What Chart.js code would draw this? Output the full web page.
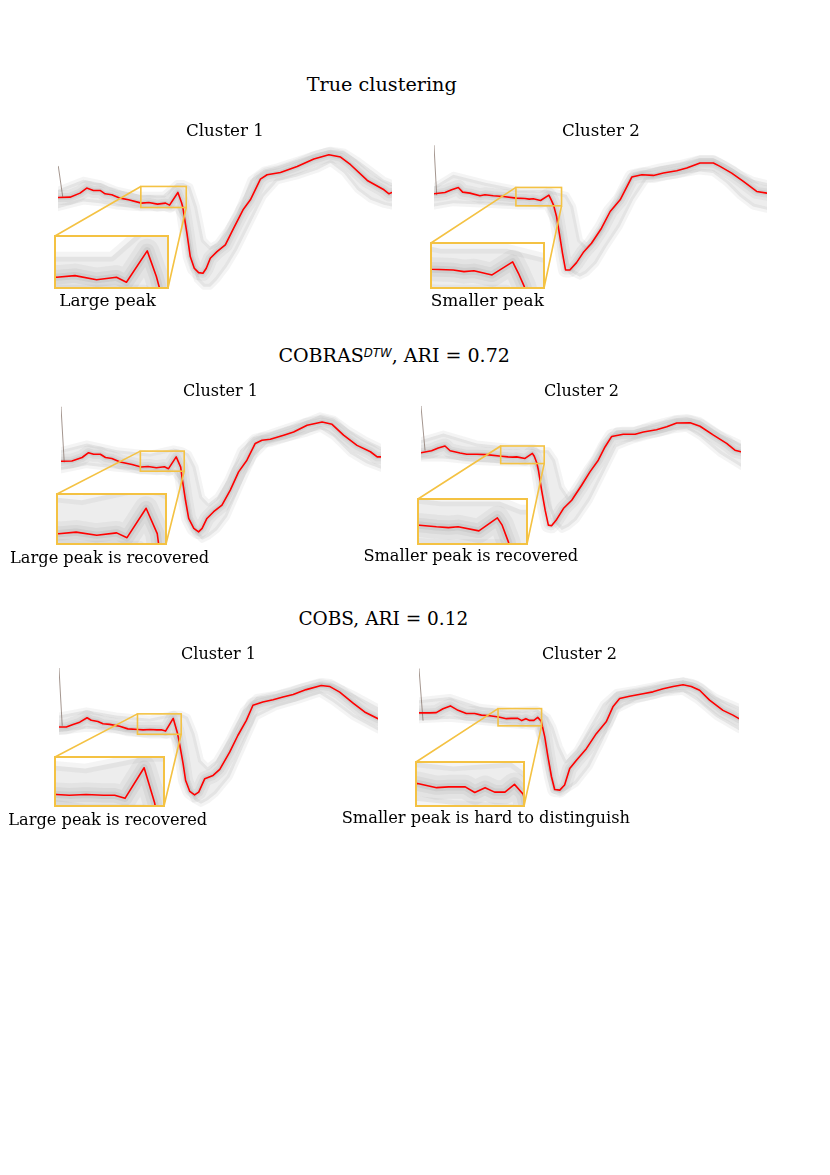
<!DOCTYPE html>
<html>
<head>
<meta charset="utf-8">
<script src="https://cdn.jsdelivr.net/npm/chart.js@4.4.0/dist/chart.umd.min.js"></script>
<style>
html,body{margin:0;padding:0;background:#fff;}
#page{position:relative;width:830px;height:1175px;overflow:hidden;background:#fff;}
#page canvas{position:absolute;}
.t{position:absolute;font-family:'DejaVu Serif',serif;color:#000;white-space:nowrap;line-height:1;}
.sup{font-family:'DejaVu Sans',sans-serif;font-style:italic;font-size:0.62em;position:relative;top:-0.42em;}
</style>
</head>
<body>
<div id="page"></div>
<script>
// ---------------- DATA (time 0..100, amplitude in arbitrary units) ----------------
// True clustering - Cluster 1
const P1_T    = [0.1,3.6,6.6,8.6,10.6,12.6,14.1,16.1,18.6,21.1,25.0,27.2,29.8,32.2,33.4,35.9,37.0,37.4,38.6,39.6,40.8,42.1,43.4,44.4,45.6,47.6,50.1,52.6,55.4,57.6,60.6,62.6,66.6,71.6,76.6,81.1,84.6,87.6,92.6,97.6,99.1,100];
const P1_MEAN = [0.7,0.8,2.0,3.5,2.8,2.8,1.8,1.5,0.5,0.0,-1.0,-0.8,-1.3,-1.0,-1.6,2.2,-0.9,-2.4,-10.0,-17.0,-20.5,-21.8,-22.0,-20.5,-17.5,-15.5,-13.5,-8.5,-3.0,0.0,6.2,7.5,8.2,10.0,12.2,13.5,12.8,10.5,5.8,3.0,1.8,2.2];
const P1_BAND_T  = [0,7.6,12.6,17.6,24.6,31.6,35.6,37.6,39.6,41.6,43.6,45.6,47.6,50.6,53.6,57.6,61.6,65.6,71.6,77.6,81.6,85.6,89.6,93.6,97.6,100];
const P1_BAND_HI = [3,6,5,3,1.5,1.5,5,5,4,-2,-12,-14,-13,-9,-4,6,9,10,12,14,15,14.5,12,9,6,5];
const P1_BAND_LO = [-2.5,-0.5,-1,-2,-2.5,-2.5,-2.5,-6,-17,-24,-26,-26,-24,-20,-15,-7,1,5.5,7,9,11,8,3,0,-1.5,-2];
const P1_SPIKE_T = [0.1,1.4], P1_SPIKE_Y = [10.0,1.0];
const P1_ZOOM = [24.8,38.4,-2.3,4.0];

// True clustering - Cluster 2
const P2_T    = [0,3.3,5.3,7.3,8.6,10.8,13.8,15.3,17.8,20.8,24.7,27.3,28.6,29.8,32.0,34.5,35.2,35.9,36.8,37.8,38.6,39.5,40.8,42.8,44.8,47.3,50.3,52.9,55.9,59.4,62.4,65.9,68.9,72.9,75.9,79.9,83.9,85.9,89.4,92.9,96.9,100];
const P2_MEAN = [1.8,2.2,3.0,3.7,2.3,2.0,1.2,1.5,1.2,1.0,0.5,0.4,0.2,0.3,-0.2,1.4,0.0,-1.6,-5.0,-11.0,-16.0,-21.0,-21.0,-18.8,-15.8,-13.0,-8.5,-3.5,0.0,6.8,7.5,7.3,8.0,8.7,9.5,11.0,11.0,10.0,8.0,5.5,2.5,2.0];
const P2_BAND_T  = [0,5.8,15.8,25.8,33.8,37.8,39.8,41.8,43.8,45.8,48.8,51.8,55.8,59.8,63.8,67.8,73.8,79.8,83.8,87.8,91.8,95.8,100];
const P2_BAND_HI = [4,7.5,5,3,3,2,1.5,-2,-12,-14,-11,-6,2,8,9,10,11,12.5,12.5,10.5,8,6,5];
const P2_BAND_LO = [-2,-1,-1.5,-2,-2,-10,-20,-22,-23,-22,-19,-14,-8,0,6,6.5,7.5,8.5,8,5,1,-2,-3];
const P2_SPIKE_T = [0,0.8], P2_SPIKE_Y = [16.2,1.5];
const P2_ZOOM = [24.6,38.3,-1.8,3.7];

// COBRAS^DTW - Cluster 1
const P3_T    = [0,3.4,6.6,8.6,10.2,12.3,13.9,15.9,18.5,22.2,25.0,27.2,29.8,32.3,33.6,36.0,37.4,37.9,38.9,39.9,41.5,43.0,44.1,45.6,47.7,50.3,52.9,55.5,58.1,60.7,62.8,65.4,69.6,72.7,76.9,81.6,84.7,88.3,92.5,96.7,98.8,100];
const P3_MEAN = [1.1,1.2,2.3,3.8,3.3,3.3,2.3,2.0,0.9,0.1,-0.7,-0.5,-0.9,-0.6,-1.2,2.5,-0.7,-4.5,-11.1,-16.8,-19.9,-21.0,-19.9,-16.8,-14.7,-12.6,-7.9,-2.2,1.45,6.7,7.7,8.0,9.3,10.3,12.4,13.4,12.7,9.3,6.1,4.1,2.5,2.5];
const P3_BAND_T  = [0,8.1,17.5,27.9,35.2,37.8,39.9,42.0,44.1,46.1,48.8,51.9,56.0,60.2,64.4,70.6,76.9,81.0,85.2,90.4,95.6,100];
const P3_BAND_HI = [4.6,6.7,4.6,3.5,5.1,4.6,3.5,-0.6,-10.0,-12.1,-10.0,-4.8,4.6,8.7,9.8,11.9,13.9,15.5,14.5,10.8,7.7,5.6];
const P3_BAND_LO = [-1.7,-0.1,-1.2,-2.2,-2.2,-5.8,-16.3,-21.5,-23.5,-22.5,-20.4,-16.3,-6.9,2.5,6.7,8.2,9.8,11.3,8.7,3.5,0.4,-1.2];
const P3_SPIKE_T = [0,1.0], P3_SPIKE_Y = [18.1,0.9];
const P3_ZOOM = [24.8,38.5,-2.0,4.3];

// COBRAS^DTW - Cluster 2
const P4_T    = [0,3.3,5.4,7.5,9.1,12.2,14.3,17.4,20.5,25.1,27.2,28.7,29.9,32.5,34.8,35.4,36.2,36.7,37.7,38.8,39.8,40.8,42.4,44.5,47.1,50.2,52.8,55.4,57.5,59.6,63.2,66.9,69.5,73.6,76.8,79.9,84.1,87.2,91.4,95.5,98.1,100];
const P4_MEAN = [3.8,4.4,5.3,5.9,4.4,3.7,3.3,3.3,3.2,2.7,2.5,2.4,2.5,2.0,3.6,2.7,0.6,-1.7,-8.0,-14.2,-18.9,-19.1,-17.1,-13.7,-11.1,-6.4,-2.2,1.45,5.6,8.9,9.6,9.6,10.3,11.0,11.9,13.1,13.2,12.1,9.3,6.7,4.6,4.1];
const P4_BAND_T  = [0,7.0,17.4,27.8,35.1,37.7,39.8,41.9,44.0,46.1,48.6,52.8,57.0,61.1,66.4,72.6,78.9,83.0,87.2,93.4,100];
const P4_BAND_HI = [7.7,9.8,6.7,5.6,5.6,4.6,4.6,1.5,-6.9,-10.0,-7.9,-0.6,6.7,10.8,10.8,12.9,14.5,15.0,14.0,9.8,6.7];
const P4_BAND_LO = [2.0,2.0,0.9,0.4,0.4,-3.8,-13.1,-18.3,-20.4,-19.4,-17.3,-11.1,-2.7,5.6,7.7,9.3,10.8,11.3,8.7,3.5,-0.6];
const P4_SPIKE_T = [0,1.25], P4_SPIKE_Y = [18.3,4.6];
const P4_ZOOM = [24.9,38.5,0.4,5.9];

// COBS - Cluster 1
const P5_T    = [0,2.3,4.4,6.5,8.8,10.1,12.2,13.8,15.9,19.0,21.6,24.8,26.4,28.5,30.7,32.1,33.4,35.8,37.1,37.8,38.9,39.7,41.0,42.5,43.8,45.7,48.3,50.4,53.5,56.1,58.7,60.8,63.9,67.1,70.2,73.4,77.5,82.2,84.8,88.0,92.2,95.8,100];
const P5_MEAN = [0.9,0.9,1.7,2.4,3.8,3.0,2.6,1.9,1.7,1.1,0.3,0.1,0.0,0.1,0.0,0.0,-0.4,3.6,-0.9,-4.4,-10.6,-15.9,-19.3,-20.4,-19.5,-15.3,-14.3,-12.4,-7.0,-1.7,2.9,7.7,8.7,9.4,10.3,11.1,12.6,13.9,13.6,11.8,8.4,5.6,3.5];
const P5_BAND_T  = [0,8.6,17.9,28.4,35.7,38.3,40.4,42.5,44.5,46.6,49.2,53.5,57.7,61.9,68.1,75.4,81.7,85.9,92.2,100];
const P5_BAND_HI = [4.5,6.1,4.5,3.5,5.0,5.0,4.0,-1.2,-9.6,-11.7,-9.6,-2.3,6.1,10.3,11.3,13.4,15.0,14.4,11.3,7.1];
const P5_BAND_LO = [-0.7,0.3,-0.2,-1.8,-1.8,-7.5,-17.9,-22.1,-23.2,-22.1,-20.0,-14.8,-5.4,4.0,7.1,9.2,11.3,8.7,4.0,-0.2];
const P5_SPIKE_T = [0,1.0], P5_SPIKE_Y = [19.2,1.4];
const P5_ZOOM = [24.6,38.3,-1.4,5.0];

// COBS - Cluster 2
const P6_T    = [0,3.3,5.4,7.5,9.8,12.2,14.8,17.4,19.5,22.1,24.9,27.3,28.8,30.9,32.1,33.4,34.6,35.9,37.1,38.2,39.3,40.3,41.4,42.4,44.0,45.5,47.1,49.2,52.3,55.4,58.5,60.6,62.7,65.8,70.0,73.1,76.3,79.4,82.5,85.1,87.7,90.8,95.0,98.1,100];
const P6_MEAN = [5.3,5.3,5.4,6.6,7.5,6.1,5.1,5.1,4.6,4.4,4.0,3.5,3.6,3.6,2.9,3.5,2.95,2.95,3.9,2.7,-2.2,-8.5,-14.7,-18.7,-18.9,-17.3,-12.1,-9.5,-5.9,-1.2,2.5,7.2,9.8,10.5,11.3,11.9,12.9,13.6,14.1,13.6,12.4,9.3,6.1,4.6,3.5];
const P6_BAND_T  = [0,9.6,19.0,29.4,36.7,38.8,40.4,42.0,44.0,46.0,49.2,53.3,57.5,61.7,67.9,76.3,82.5,86.7,92.9,100];
const P6_BAND_HI = [9.25,10.3,7.2,6.1,6.6,5.1,4.0,0.9,-5.3,-9.5,-6.4,0.9,8.2,11.9,12.9,14.5,15.5,14.5,10.3,7.2];
const P6_BAND_LO = [3.0,3.5,2.5,1.4,0.9,-5.3,-12.6,-18.9,-19.9,-18.9,-16.8,-11.6,-3.25,6.1,9.25,11.3,11.9,9.25,4.05,-0.1];
const P6_SPIKE_T = [0,1.25], P6_SPIKE_Y = [19.1,3.0];
const P6_ZOOM = [24.7,38.3,1.25,6.65];

// Axis ranges shared by all main panels
const T_RANGE = [0,100];
const Y_RANGE = [-27,20];

// Texts
const FIG_TITLES   = ['True clustering', 'COBRAS<span class="sup">DTW</span>, ARI = 0.72', 'COBS, ARI = 0.12'];
const PANEL_TITLES = ['Cluster 1','Cluster 2','Cluster 1','Cluster 2','Cluster 1','Cluster 2'];
const CAPTIONS     = ['Large peak','Smaller peak','Large peak is recovered','Smaller peak is recovered','Large peak is recovered','Smaller peak is hard to distinguish'];

// ---------------- LAYOUT (pixels) ----------------
const LAYOUT = [
  {x:58,  y:133, w:334, h:157, ix:55,  iy:236, iw:113, ih:52},
  {x:434, y:133, w:333, h:157, ix:431, iy:243, iw:113, ih:45},
  {x:61,  y:401, w:320, h:150, ix:57,  iy:494, iw:109, ih:50},
  {x:421, y:401, w:320, h:150, ix:418, iy:499, iw:109, ih:45},
  {x:59,  y:666, w:319, h:150, ix:55,  iy:757, iw:109, ih:49},
  {x:419, y:666, w:320, h:150, ix:416, iy:762, iw:108, ih:44}
];
const FIG_TITLE_POS   = [[306.7,456.7,90.7],[278.3,510,361.7],[298.3,468.3,626]];
const PANEL_TITLE_POS = [[186,264,136],[562,640,136],[183,258,397],[544,619,397],[181,256,660],[542,617,660]];
const CAPTION_POS     = [[59.3,156,306.7],[430.7,544,306.7],[10,209.3,563.3],[363.3,578.3,561.7],[8.3,207.3,825.7],[341.7,630,824]];

const YELLOW = '#f4c243';
const PAD = 12;

const PANELS = [
  {t:P1_T,mean:P1_MEAN,bt:P1_BAND_T,hi:P1_BAND_HI,lo:P1_BAND_LO,st:P1_SPIKE_T,sy:P1_SPIKE_Y,zoom:P1_ZOOM},
  {t:P2_T,mean:P2_MEAN,bt:P2_BAND_T,hi:P2_BAND_HI,lo:P2_BAND_LO,st:P2_SPIKE_T,sy:P2_SPIKE_Y,zoom:P2_ZOOM},
  {t:P3_T,mean:P3_MEAN,bt:P3_BAND_T,hi:P3_BAND_HI,lo:P3_BAND_LO,st:P3_SPIKE_T,sy:P3_SPIKE_Y,zoom:P3_ZOOM},
  {t:P4_T,mean:P4_MEAN,bt:P4_BAND_T,hi:P4_BAND_HI,lo:P4_BAND_LO,st:P4_SPIKE_T,sy:P4_SPIKE_Y,zoom:P4_ZOOM},
  {t:P5_T,mean:P5_MEAN,bt:P5_BAND_T,hi:P5_BAND_HI,lo:P5_BAND_LO,st:P5_SPIKE_T,sy:P5_SPIKE_Y,zoom:P5_ZOOM},
  {t:P6_T,mean:P6_MEAN,bt:P6_BAND_T,hi:P6_BAND_HI,lo:P6_BAND_LO,st:P6_SPIKE_T,sy:P6_SPIKE_Y,zoom:P6_ZOOM}
];

// ---------------- RENDER ----------------
const page = document.getElementById('page');

function zip(xs, ys) {
  const n = Math.min(xs.length, ys.length), out = [];
  for (let i = 0; i < n; i++) out.push({x: xs[i], y: ys[i]});
  return out;
}

function datasets(p, inset) {
  const clip = inset ? 0 : undefined;
  const k = inset ? 1.6 : 1;
  return [
    {data: zip(p.t, p.mean), borderColor: '#ff0000', borderWidth: 1.6, order: 0, clip},
    {data: zip(p.st, p.sy), borderColor: 'rgba(125,105,95,0.7)', borderWidth: 1, order: 1, clip},
    {data: zip(p.t, p.mean), borderColor: 'rgba(105,105,105,0.07)', borderWidth: 15 * k, order: 2, clip},
    {data: zip(p.t, p.mean), borderColor: 'rgba(105,105,105,0.08)', borderWidth: 9 * k, order: 3, clip},
    {data: zip(p.t, p.mean), borderColor: 'rgba(105,105,105,0.10)', borderWidth: 4.5 * k, order: 4, clip},
    {data: zip(p.bt, p.hi), borderColor: 'rgba(150,150,150,0.10)', borderWidth: 6 * k, fill: '+1',
     backgroundColor: 'rgba(150,150,150,0.17)', order: 5, clip},
    {data: zip(p.bt, p.lo), borderColor: 'rgba(150,150,150,0.10)', borderWidth: 6 * k, fill: false, order: 6, clip}
  ];
}

function baseOptions(xr, yr, pad) {
  return {
    responsive: false, animation: false, devicePixelRatio: 1, events: [],
    layout: {padding: pad},
    plugins: {legend: {display: false}, tooltip: {enabled: false}, title: {display: false}},
    elements: {point: {radius: 0, hoverRadius: 0}, line: {tension: 0, borderJoinStyle: 'round', borderCapStyle: 'round'}},
    scales: {
      x: {type: 'linear', min: xr[0], max: xr[1], display: false},
      y: {type: 'linear', min: yr[0], max: yr[1], display: false}
    }
  };
}

function makeCanvas(left, top, w, h) {
  const c = document.createElement('canvas');
  c.width = w; c.height = h;
  c.style.left = left + 'px'; c.style.top = top + 'px';
  c.style.width = w + 'px'; c.style.height = h + 'px';
  page.appendChild(c);
  return c;
}

PANELS.forEach((p, i) => {
  const L = LAYOUT[i];
  const ox = L.x - PAD, oy = L.y - PAD;
  const main = makeCanvas(ox, oy, L.w + 2 * PAD, L.h + 2 * PAD);
  new Chart(main, {
    type: 'line',
    data: {datasets: datasets(p, false)},
    options: baseOptions(T_RANGE, Y_RANGE, PAD),
    plugins: [{
      id: 'zoomMark',
      afterDatasetsDraw(chart) {
        const {ctx, scales} = chart;
        const z = p.zoom;
        const x0 = scales.x.getPixelForValue(z[0]), x1 = scales.x.getPixelForValue(z[1]);
        const y0 = scales.y.getPixelForValue(z[3]), y1 = scales.y.getPixelForValue(z[2]);
        const ix0 = L.ix - ox, iy0 = L.iy - oy, ix1 = ix0 + L.iw, iy1 = iy0 + L.ih;
        ctx.save();
        ctx.strokeStyle = YELLOW; ctx.lineWidth = 1.6;
        ctx.strokeRect(x0, y0, x1 - x0, y1 - y0);
        ctx.beginPath();
        ctx.moveTo(ix0, iy0); ctx.lineTo(x0, y0);
        ctx.moveTo(ix1, iy1); ctx.lineTo(x1, y1);
        ctx.stroke();
        ctx.restore();
      }
    }]
  });

  const IP = 3;
  const ins = makeCanvas(L.ix - IP, L.iy - IP, L.iw + 2 * IP, L.ih + 2 * IP);
  new Chart(ins, {
    type: 'line',
    data: {datasets: datasets(p, true)},
    options: baseOptions([p.zoom[0], p.zoom[1]], [p.zoom[2], p.zoom[3]], IP),
    plugins: [{
      id: 'insetFrame',
      beforeDraw(chart) {
        const a = chart.chartArea, ctx = chart.ctx;
        ctx.save(); ctx.fillStyle = '#ffffff';
        ctx.fillRect(a.left, a.top, a.right - a.left, a.bottom - a.top);
        ctx.restore();
      },
      afterDraw(chart) {
        const a = chart.chartArea, ctx = chart.ctx;
        ctx.save(); ctx.strokeStyle = YELLOW; ctx.lineWidth = 2;
        ctx.strokeRect(a.left, a.top, a.right - a.left, a.bottom - a.top);
        ctx.restore();
      }
    }]
  });
});

function addText(html, x0, x1, base) {
  const d = document.createElement('div');
  d.className = 't';
  d.innerHTML = html;
  d.style.fontSize = '20px';
  d.style.left = '0px'; d.style.top = '0px';
  page.appendChild(d);
  const w = d.getBoundingClientRect().width;
  const s = 20 * (x1 - x0) / w;
  d.style.fontSize = s.toFixed(2) + 'px';
  const w2 = d.getBoundingClientRect().width;
  d.style.left = (x0 + ((x1 - x0) - w2) / 2).toFixed(1) + 'px';
  d.style.top = (base - 0.846 * s).toFixed(1) + 'px';
}

FIG_TITLES.forEach((s, i) => addText(s, ...FIG_TITLE_POS[i]));
PANEL_TITLES.forEach((s, i) => addText(s, ...PANEL_TITLE_POS[i]));
CAPTIONS.forEach((s, i) => addText(s, ...CAPTION_POS[i]));
</script>
</body>
</html>
